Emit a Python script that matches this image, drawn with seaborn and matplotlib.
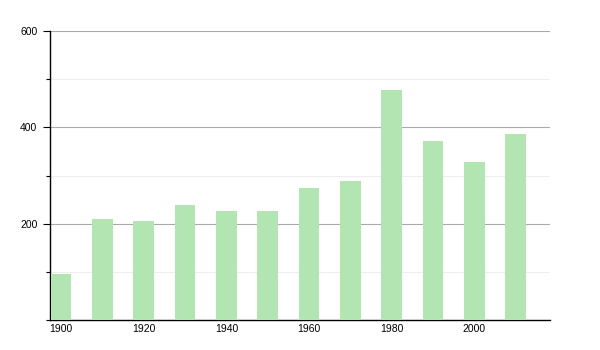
import matplotlib
matplotlib.use("Agg")
import matplotlib.pyplot as plt
import seaborn as sns
import pandas as pd
from matplotlib.ticker import MultipleLocator

years = [1900, 1910, 1920, 1930, 1940, 1950, 1960, 1970, 1980, 1990, 2000, 2010]
values = [95, 209, 205, 238, 226, 226, 275, 288, 477, 371, 328, 386]
x_ticks = [1900, 1920, 1940, 1960, 1980, 2000]
y_ticks = [200, 400, 600]

df = pd.DataFrame({"year": years, "value": values})

sns.set_style("white")
plt.rcParams['font.family'] = ['Liberation Sans', 'DejaVu Sans']

fig = plt.figure(figsize=(6, 3.5), dpi=100)
ax = fig.add_axes([50/600, 30/350, 500/600, 289/350])

sns.barplot(data=df, x="year", y="value", native_scale=True, width=0.5,
            color="#b3e5b3", saturation=1, edgecolor="none", ax=ax, zorder=3)

ax.set_xlim(1897.3, 2018.3)
ax.set_ylim(0, 600)
ax.set_xticks(x_ticks)
ax.set_xticklabels([str(t) for t in x_ticks])
ax.set_yticks(y_ticks)
ax.set_yticklabels([str(t) for t in y_ticks])
ax.yaxis.set_minor_locator(MultipleLocator(100))

ax.grid(axis="y", which="major", color="#aaaaaa", linewidth=0.8, zorder=0)
ax.grid(axis="y", which="minor", color="#eeeeee", linewidth=0.8, zorder=0)
ax.set_axisbelow(True)

for s in ["top", "right"]:
    ax.spines[s].set_visible(False)
for s in ["left", "bottom"]:
    ax.spines[s].set_color("black")
    ax.spines[s].set_linewidth(1.0)

ax.tick_params(axis="y", which="major", length=5, width=0.8, color="black",
               labelsize=7.5, labelcolor="black", pad=4, left=True)
ax.tick_params(axis="y", which="minor", length=3, width=0.8, color="black", left=True)
ax.tick_params(axis="x", length=0, labelsize=7.5, labelcolor="black", pad=3)

ax.set_xlabel("")
ax.set_ylabel("")

fig.savefig("out.png", dpi=100)
